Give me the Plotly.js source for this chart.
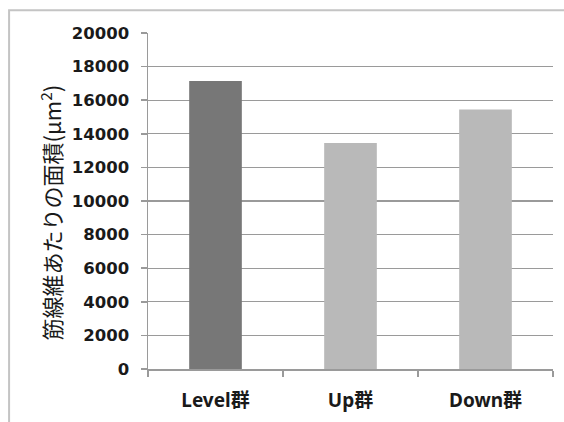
<!DOCTYPE html>
<html>
<head>
<meta charset="utf-8">
<script src="https://cdn.plot.ly/plotly-3.0.1.min.js"></script>
<style>
  html, body { margin: 0; padding: 0; background: #ffffff; }
  #chart { width: 564px; height: 422px; }
</style>
</head>
<body>
<div id="chart"></div>
<script>
// Groups and mean fibre cross-sectional area per group
const groups = ["Level群", "Up群", "Down群"];
const areas = [17150, 13450, 15450];
const barColors = ["#777777", "#b9b9b9", "#b9b9b9"];

// Y axis ticks
const yTicks = [0, 2000, 4000, 6000, 8000, 10000, 12000, 14000, 16000, 18000, 20000];
const yTitle = "筋線維あたりの面積(μm<sup>2</sup>)";

const numFont = "'DejaVu Sans', 'Noto Sans CJK JP', sans-serif";
const catFont = "'Noto Sans', 'Noto Sans CJK JP', sans-serif";

const trace = {
  type: "bar",
  x: groups,
  y: areas,
  marker: { color: barColors, line: { width: 0 } },
  hoverinfo: "x+y"
};

const layout = {
  width: 564,
  height: 422,
  margin: { l: 148, r: 11, t: 33, b: 53 },
  paper_bgcolor: "#ffffff",
  plot_bgcolor: "#ffffff",
  showlegend: false,
  bargap: 0.61,
  font: { family: numFont, color: "#1a1a1a" },
  xaxis: {
    type: "category",
    showline: true,
    linecolor: "#9a9a9a",
    linewidth: 1.5,
    ticks: "outside",
    tickson: "boundaries",
    ticklen: 6,
    tickcolor: "#9a9a9a",
    tickwidth: 1.5,
    showgrid: false,
    zeroline: false,
    ticklabelstandoff: 14,
    tickfont: { family: catFont, size: 19, weight: "bold", color: "#1a1a1a" }
  },
  yaxis: {
    range: [0, 20000],
    tickvals: yTicks,
    ticktext: yTicks.map(String),
    showline: true,
    linecolor: "#9a9a9a",
    linewidth: 1.5,
    ticks: "outside",
    ticklen: 6,
    tickcolor: "#9a9a9a",
    tickwidth: 1.5,
    showgrid: true,
    gridcolor: "#9a9a9a",
    gridwidth: 1.2,
    zeroline: false,
    ticklabelstandoff: 8,
    tickfont: { family: numFont, size: 16.5, weight: "bold", color: "#1a1a1a" }
  },
  annotations: [{
    text: yTitle,
    xref: "paper", yref: "paper",
    x: -0.242, y: 0.466,
    xanchor: "center", yanchor: "middle",
    textangle: -90,
    showarrow: false,
    font: { family: "'Noto Sans CJK JP', sans-serif", size: 22, color: "#1a1a1a" }
  }],
  shapes: [{
    // outer chart frame
    type: "rect",
    xref: "paper", yref: "paper",
    x0: -0.343, x1: 1.1, y0: -0.2, y1: 1.068,
    line: { color: "#c4c4c4", width: 2 },
    fillcolor: "rgba(0,0,0,0)",
    layer: "below"
  }]
};

Plotly.newPlot("chart", [trace], layout, { staticPlot: true, displayModeBar: false });
</script>
</body>
</html>
